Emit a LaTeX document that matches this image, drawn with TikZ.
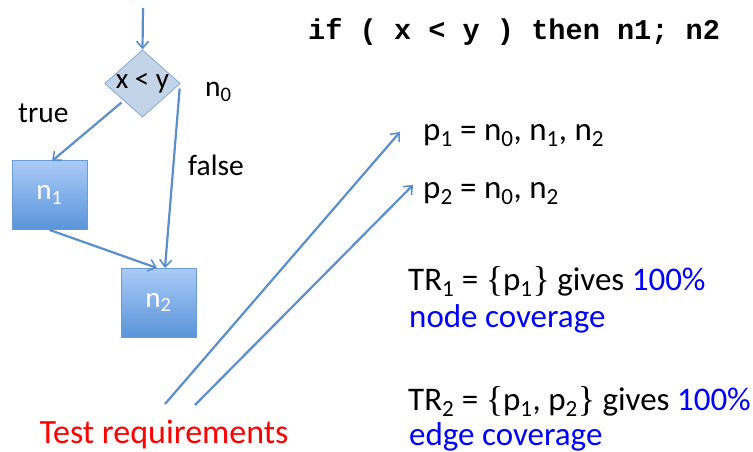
\documentclass[tikz,border=0pt]{standalone}
\usepackage{fontspec}
\setmainfont{Carlito}
\newfontfamily\codefont{Liberation Mono}
\newfontfamily\bracefont{Liberation Serif}
\usetikzlibrary{arrows.meta,shapes.geometric}
\definecolor{edgeblue}{HTML}{5B8FCB}
\definecolor{boxtop}{HTML}{AACBF7}
\definecolor{boxbot}{HTML}{5A94DA}
\definecolor{boxline}{HTML}{6C9BD2}
\definecolor{diafill}{HTML}{C4D4E8}
\definecolor{dialine}{HTML}{86A8D3}
\definecolor{pureblue}{HTML}{0000FF}
\definecolor{purered}{HTML}{FF0000}
\newcommand\sbs[1]{\textsubscript{#1}}
\newcommand\lbr{{\bracefont\fontsize{36}{36}\selectfont\raisebox{-1pt}{\{}}}
\newcommand\rbr{{\bracefont\fontsize{36}{36}\selectfont\raisebox{-1pt}{\}}}}
\tikzset{
  fsz/.style={font=\fontsize{#1}{#1}\selectfont},
  lbl/.style={inner sep=0pt, anchor=base west, fsz=29.5},
  big/.style={inner sep=0pt, anchor=base west, fsz=33},
  nodebox/.style={draw=boxline, line width=0.8pt, top color=boxtop, bottom color=boxbot,
     minimum width=75pt, minimum height=69pt, inner sep=0pt, text=white, fsz=29},
  decision/.style={diamond, draw=dialine, line width=0.8pt, fill=diafill, aspect=1.12,
     minimum width=75pt, minimum height=67pt, inner sep=0pt, fsz=29},
  conn/.style={draw=edgeblue, line width=2.2pt, -{Straight Barb[length=7pt,width=12pt,line width=1.6pt]}},
}
\begin{document}
\begin{tikzpicture}[x=1pt,y=-1pt]
\useasboundingbox (0,0) rectangle (753,452);
% flow graph
\node[decision] (d) at (142.5,83.5) {x < y};
\node[nodebox] (n1) at (49.5,195) {n\sbs{1}};
\node[nodebox] (n2) at (158.5,302.5) {n\sbs{2}};
\coordinate (top) at (143,8);
\draw[conn] (top) -- (d.north);
\draw[conn] (d.south west) ++(-2,2) coordinate (dsw) (dsw) -- (52,161);
\draw[conn] (d.east) ++(-1,5) coordinate (de) (de) -- (165,268);
\draw[conn] (n1.south) -- (157,268);
% labels
\node[lbl] (lt) at (18,122) {true};
\node[lbl] (lf) at (188,175) {false};
\node[lbl] (ln) at (205,97) {n\sbs{0}};
% code
\node[inner sep=0pt, anchor=base west, font=\codefont\bfseries\fontsize{28.6}{33}\selectfont] (code) at (308,40) {if ( x < y ) then n1; n2};
% paths
\node[big] (p1) at (423,140) {p\sbs{1} = n\sbs{0}, n\sbs{1}, n\sbs{2}};
\node[big] (p2) at (423,198) {p\sbs{2} = n\sbs{0}, n\sbs{2}};
% test requirements
\node[inner sep=0pt, anchor=base, fsz=34, text=purered] (tr) at (164,443) {Test requirements};
\coordinate (s1) at (165,404);
\coordinate (s2) at (195,405);
\draw[conn] (s1) -- (400,132);
\draw[conn] (s2) -- (413,185);
% coverage
\node[big] (tr1) at (408,290) {TR\sbs{1} = \lbr p\sbs{1}\rbr{} gives \textcolor{pureblue}{100\%}};
\node[big, text=pureblue] (nc) at (409,327) {node coverage};
\node[big] (tr2) at (408,410) {TR\sbs{2} = \lbr p\sbs{1}, p\sbs{2}\rbr{} gives \textcolor{pureblue}{100\%}};
\node[big, text=pureblue] (ec) at (409,445) {edge coverage};
\end{tikzpicture}
\end{document}
